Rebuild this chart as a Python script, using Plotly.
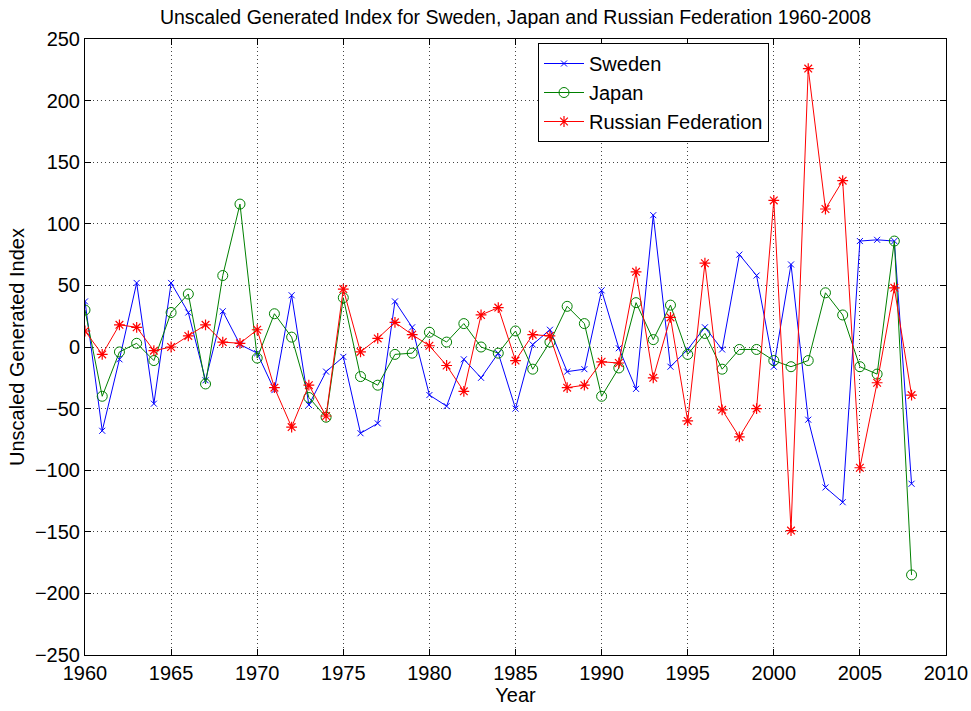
import plotly.graph_objects as go

years = list(range(1960, 2009))

sweden = [37, -68, -10, 52, -46, 52, 28, -27, 29, 2,
          -5, -35, 42, -47, -20, -8, -70, -62, 37, 16,
          -39, -48, -10, -25, -5, -50, 2, 14, -20, -18,
          46, -1, -34, 107, -16, -2, 16, -2, 75, 58,
          -16, 67, -59, -114, -126, 86, 87, 86, -111]

japan = [30, -40, -4, 3, -11, 28, 43, -30, 58, 116,
         -9, 27, 8, -41, -57, 40, -24, -31, -6, -5,
         12, 4, 19, 0, -5, 13, -18, 4, 33, 19,
         -40, -17, 36, 6, 34, -6, 11, -18, -2, -2,
         -11, -16, -11, 44, 26, -16, -22, 86, -185]

russia = [13, -6, 18, 16, -3, 0, 9, 18, 4, 3,
          14, -33, -65, -31, -56, 47, -4, 7, 20, 10,
          1, -15, -36, 26, 32, -11, 10, 9, -33, -31,
          -12, -13, 61, -25, 24, -60, 68, -51, -73, -50,
          119, -149, 226, 112, 135, -98, -29, 48, -39]

x_ticks = list(range(1960, 2011, 5))
y_ticks = list(range(-250, 251, 50))

font_family = "Liberation Sans, Arial, Helvetica, sans-serif"

fig = go.Figure()
fig.add_trace(go.Scatter(
    x=years, y=sweden, name="Sweden", mode="lines+markers",
    line=dict(color="#0000ff", width=1),
    marker=dict(symbol="x-thin-open", size=6, color="#0000ff",
                line=dict(color="#0000ff", width=1)),
))
fig.add_trace(go.Scatter(
    x=years, y=japan, name="Japan", mode="lines+markers",
    line=dict(color="#008000", width=1),
    marker=dict(symbol="circle-open", size=10, color="#008000",
                line=dict(color="#008000", width=1)),
))
fig.add_trace(go.Scatter(
    x=years, y=russia, name="Russian Federation", mode="lines+markers",
    line=dict(color="#ff0000", width=1),
    marker=dict(symbol="asterisk-open", size=9, color="#ff0000",
                line=dict(color="#ff0000", width=1.2)),
))

axis_common = dict(
    showline=True, linecolor="black", linewidth=1, mirror="ticks",
    ticks="inside", ticklen=6, tickcolor="black",
    showgrid=True, gridcolor="#444444", griddash="1px,3px", gridwidth=1,
    zeroline=False, automargin=False,
    tickfont=dict(family=font_family, size=20, color="black"),
)

fig.update_xaxes(
    range=[1960, 2010], tickvals=x_ticks,
    title=dict(text="Year", font=dict(family=font_family, size=20, color="black"),
               standoff=0),
    **axis_common,
)
fig.update_yaxes(
    range=[-250, 250], tickvals=y_ticks,
    title=dict(text="Unscaled Generated Index",
               font=dict(family=font_family, size=20, color="black"), standoff=4),
    **axis_common,
)

fig.update_layout(
    width=971, height=711,
    margin=dict(l=85, r=25, t=39, b=56),
    paper_bgcolor="white", plot_bgcolor="white",
    title=dict(text="Unscaled Generated Index for Sweden, Japan and Russian Federation 1960-2008",
               x=0.5, xref="paper", y=1 - 17 / 711, yanchor="middle",
               font=dict(family=font_family, size=19.5, color="black")),
    legend=dict(x=(538 - 85) / 861, y=1 - (43 - 39) / 616, xanchor="left", yanchor="top",
                bgcolor="white", bordercolor="black", borderwidth=1,
                font=dict(family=font_family, size=20, color="black"),
                itemwidth=40, tracegroupgap=0),
    showlegend=True,
)

fig.write_html("out.html")
